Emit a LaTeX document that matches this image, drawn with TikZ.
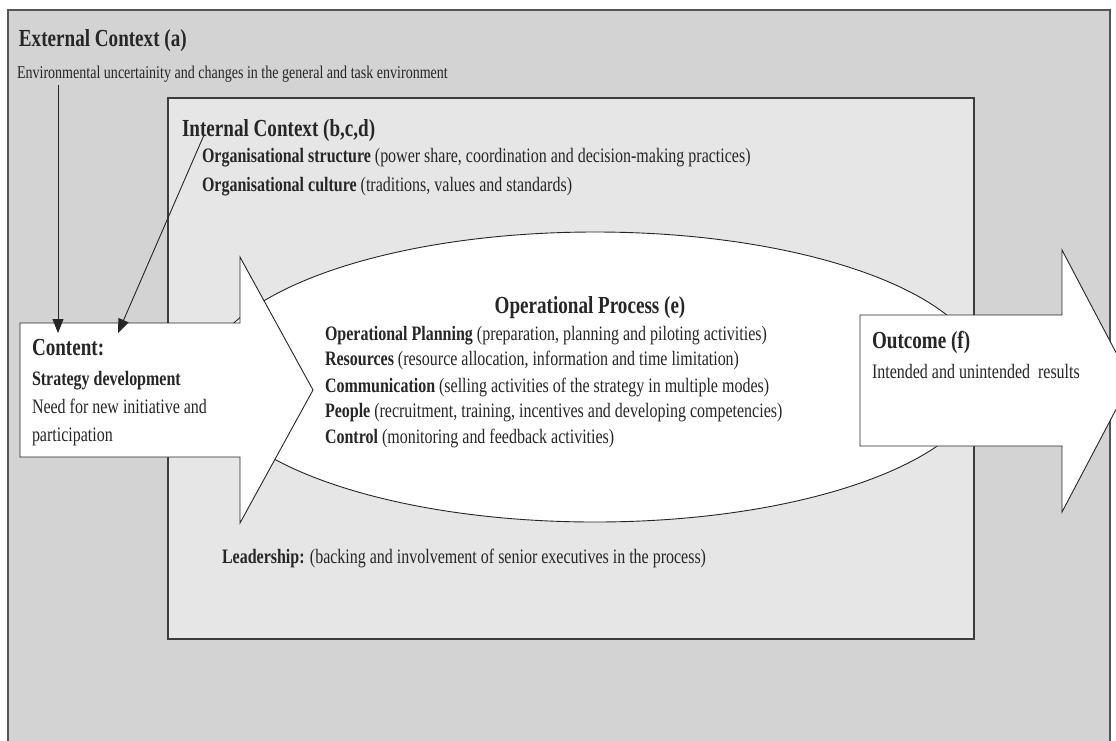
\documentclass[tikz,border=0pt]{standalone}
\usepackage{fontspec}
\setmainfont{Liberation Serif}[FakeStretch=0.78]
\usetikzlibrary{arrows.meta,shapes.geometric}
\definecolor{outerfill}{HTML}{D3D3D3}
\definecolor{innerfill}{HTML}{E6E6E6}
\definecolor{edgegray}{HTML}{555555}
\definecolor{ink}{HTML}{262626}
\begin{document}
\begin{tikzpicture}[x=1pt,y=-1pt,
  txt/.style={anchor=base west, inner sep=0pt, outer sep=0pt, text=ink, font=\fontsize{20.5}{24}\selectfont},
  smalltxt/.style={txt, font=\fontsize{18}{22}\selectfont},
  ttl/.style={txt, font=\fontsize{24.5}{28}\selectfont\bfseries},
  box/.style={draw=edgegray, line width=1.3pt, anchor=north west, inner sep=0pt, outer sep=0pt},
  shapeline/.style={draw=ink, line width=0.9pt, fill=white, line join=miter},
  conn/.style={draw=ink, line width=0.9pt, -{Triangle[length=14pt,width=11pt]}}]
\useasboundingbox (0,0) rectangle (1116,740);
\clip (0,0) rectangle (1116,740);
% boxes
\node[box, fill=outerfill, minimum width=1102pt, minimum height=780pt] (outer) at (8,10) {};
\node[box, fill=innerfill, draw=ink!90, minimum width=806pt, minimum height=541pt] (inner) at (168,98) {};
% operational process ellipse
\node[ellipse, shapeline, minimum width=778pt, minimum height=290pt, inner sep=0pt] (proc) at (595,377) {};
% content arrow
\path[shapeline] (20,323) -- (240,323) -- (240,257) -- (313,390) -- (240,523) -- (240,457) -- (20,457) -- cycle;
% outcome arrow
\path[shapeline] (860,315) -- (1062,315) -- (1062,250) -- (1131,381) -- (1062,512) -- (1062,446) -- (860,446) -- cycle;
% texts
\node[ttl] (extT) at (19,46) {External Context (a)};
\node[smalltxt] (extB) at (17,78) {Environmental uncertainity and changes in the general and task environment};
\node[ttl] (intT) at (182,136) {Internal Context (b,c,d)};
\node[txt] (orgS) at (202,162) {\textbf{Organisational structure} (power share, coordination and decision-making practices)};
\node[txt] (orgC) at (202,191) {\textbf{Organisational culture} (traditions, values and standards)};
\node[ttl, anchor=base] (opT) at (590,313) {Operational Process (e)};
\node[txt] (op1) at (325,340) {\textbf{Operational Planning} (preparation, planning and piloting activities)};
\node[txt] (op2) at (325,365) {\textbf{Resources} (resource allocation, information and time limitation)};
\node[txt] (op3) at (325,392) {\textbf{Communication} (selling activities of the strategy in multiple modes)};
\node[txt] (op4) at (325,417) {\textbf{People} (recruitment, training, incentives and developing competencies)};
\node[txt] (op5) at (325,443) {\textbf{Control} (monitoring and feedback activities)};
\node[ttl] (conT) at (32,355) {Content:};
\node[txt, font=\fontsize{20.5}{24}\selectfont\bfseries] (conS) at (32,385) {Strategy development};
\node[txt] (conN1) at (32,413) {Need for new initiative and};
\node[txt] (conN2) at (32,441) {participation};
\node[ttl] (outT) at (872,348) {Outcome (f)};
\node[txt] (outB) at (872,378) {Intended and unintended\ \ results};
\node[txt] (lead) at (222,563) {\textbf{Leadership:} (backing and involvement of senior executives in the process)};
% connectors
\coordinate (a1s) at (58,85);
\coordinate (a1e) at (58,333);
\coordinate (a2s) at (204,135);
\coordinate (a2e) at (118,333);
\draw[conn] (a1s) -- (a1e);
\draw[conn] (a2s) -- (a2e);
\end{tikzpicture}
\end{document}
